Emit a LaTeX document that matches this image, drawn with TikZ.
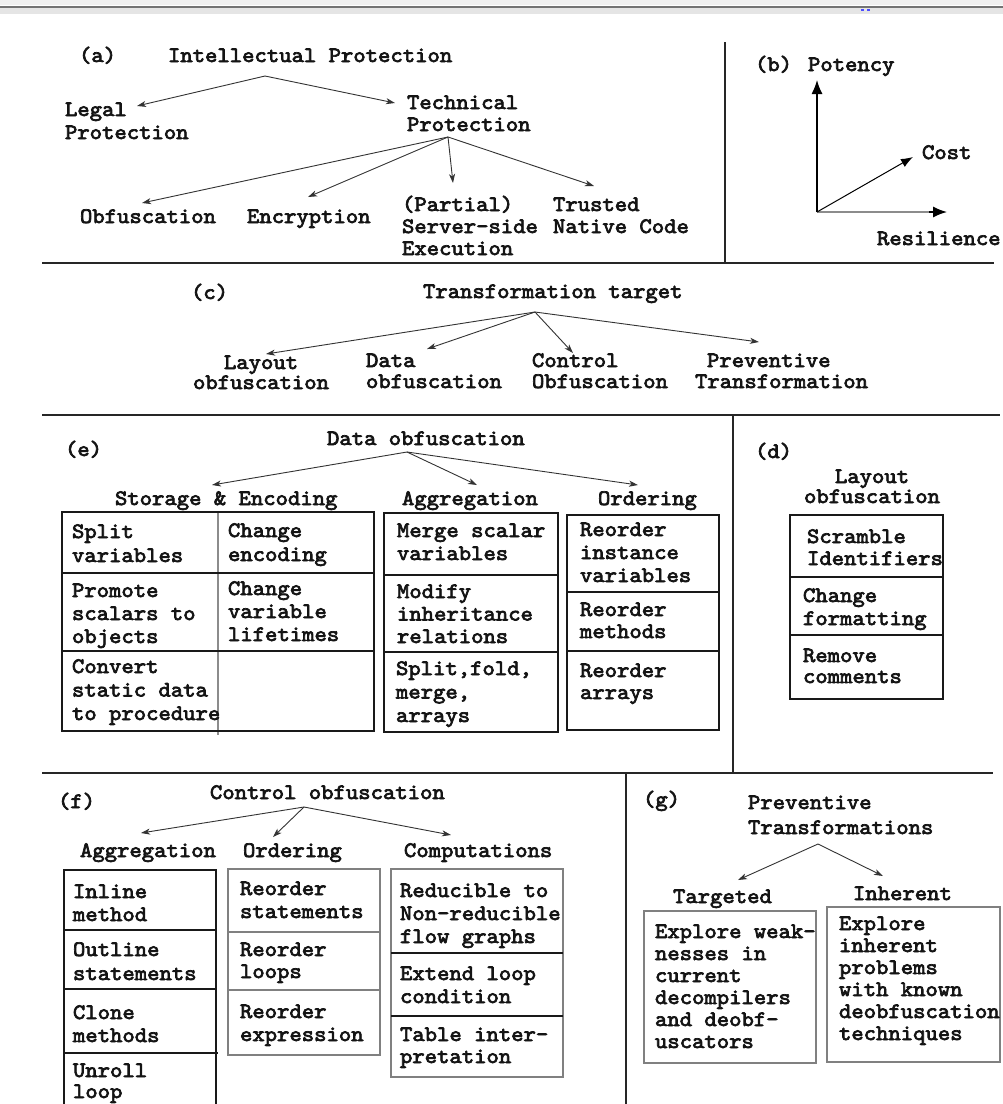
\documentclass[tikz,border=0pt]{standalone}
\usepackage{fontspec}
\usetikzlibrary{arrows.meta}
% typewriter face for every label
\newfontfamily\figtt{lmmono10-regular.otf}[FakeStretch=1.07,FakeBold=3.2]
\newcommand\figfont[1]{\figtt\fontsize{22}{#1}\selectfont}
\newcommand\lns[1]{\begin{tabular}[t]{@{}l@{}}#1\end{tabular}}
\newcommand\clns[1]{\begin{tabular}[t]{@{}c@{}}#1\end{tabular}}
\tikzset{
  lbl/.style={anchor=base west, inner sep=0pt, outer sep=0pt, text=black!92, font=\figfont{#1}},
  lbl/.default=22,
  clbl/.style={anchor=base, inner sep=0pt, outer sep=0pt, text=black!92, font=\figfont{#1}},
  clbl/.default=22,
  branch/.style={draw=black!80, line width=0.9pt, -{Stealth[length=9pt,width=6pt,inset=2.5pt]}},
  axisarrow/.style={draw=black, line width=1.4pt, -{Latex[length=14pt,width=11pt]}},
  divider/.style={draw=black!85, line width=1.4pt},
  cell/.style={draw=black!90, line width=1.3pt},
  softcell/.style={draw=black!50, line width=1.4pt},
}
\begin{document}
\begin{tikzpicture}[x=1pt,y=-1pt]
\useasboundingbox (0,0) rectangle (1003,1104);
\fill[white] (0,0) rectangle (1003,1104);

% window border strip along the top
\fill[black!6] (0,0) rectangle (1003,5);
\draw[black!55, line width=2pt] (0,7) -- (1003,7);
\fill[black!10] (0,8) rectangle (1003,14);
\fill[blue!70] (861,9) rectangle (864,11);
\fill[blue!70] (867,9) rectangle (870,11);

% ---------------- (a) intellectual protection ----------------
\node[lbl] (a-tag) at (79,62) {(a)};
\node[lbl] (ip) at (168,62) {Intellectual Protection};
\node[lbl=23] (legal) at (65,116) {\lns{Legal\\Protection}};
\node[lbl=22] (tech) at (407,109) {\lns{Technical\\Protection}};
\node[lbl] (obf) at (80,223) {Obfuscation};
\node[lbl] (enc) at (247,223) {Encryption};
\node[lbl=22] (sse) at (402,211) {\lns{(Partial)\\Server-side\\Execution}};
\node[lbl=22] (tnc) at (553,211) {\lns{Trusted\\Native Code}};
\coordinate (ip-out) at (265,76);
\coordinate (legal-in) at (137,106);
\coordinate (tech-in) at (395,103);
\coordinate (tech-out) at (448,137);
\coordinate (obf-in) at (142,203);
\coordinate (enc-in) at (308,197);
\coordinate (sse-in) at (453,183);
\coordinate (tnc-in) at (594,186);
\draw[branch] (ip-out) -- (legal-in);
\draw[branch] (ip-out) -- (tech-in);
\draw[branch] (tech-out) -- (obf-in);
\draw[branch] (tech-out) -- (enc-in);
\draw[branch] (tech-out) -- (sse-in);
\draw[branch] (tech-out) -- (tnc-in);

% ---------------- (b) quality axes ----------------
\node[lbl] (b-tag) at (755,71) {(b)};
\node[lbl] (pot) at (808,71) {Potency};
\node[lbl] (cost) at (922,159) {Cost};
\node[lbl] (res) at (877,245) {Resilience};
\coordinate (orig) at (817,212);
\coordinate (pot-in) at (817,80);
\coordinate (res-in) at (947,212);
\coordinate (cost-in) at (913,157);
\draw[axisarrow] (orig) -- (pot-in);
\draw[black!45, line width=2.2pt] (orig) -- (932,212);
\draw[axisarrow, shorten <=112pt] (orig) -- (res-in);
\draw[draw=black, line width=1pt, -{Latex[length=12pt,width=9pt]}] (orig) -- (cost-in);

\draw[divider] (725,42) -- (725,263);
\draw[divider] (42,263) -- (994,263);

% ---------------- (c) transformation target ----------------
\node[lbl] (c-tag) at (191,299) {(c)};
\node[lbl] (tt) at (423,298) {Transformation target};
\node[clbl=20] (lay) at (261,369) {\clns{Layout\\obfuscation}};
\node[lbl=21] (dat) at (366,367) {\lns{Data\\obfuscation}};
\node[lbl=21] (ctl) at (532,367) {\lns{Control\\Obfuscation}};
\node[lbl=21] (prev) at (695,367) {\lns{\hspace*{12pt}Preventive\\Transformation}};
\coordinate (tt-out) at (535,312);
\coordinate (lay-in) at (266,354);
\coordinate (dat-in) at (427,349);
\coordinate (ctl-in) at (573,353);
\coordinate (prev-in) at (759,342);
\draw[branch] (tt-out) -- (lay-in);
\draw[branch] (tt-out) -- (dat-in);
\draw[branch] (tt-out) -- (ctl-in);
\draw[branch] (tt-out) -- (prev-in);

\draw[divider] (42,415) -- (1000,415);

% ---------------- (e) data obfuscation ----------------
\node[lbl] (e-tag) at (65,456) {(e)};
\node[lbl] (dobf) at (327,445) {Data obfuscation};
\node[lbl] (se) at (115,505) {Storage \& Encoding};
\node[lbl] (eagg) at (402,505) {Aggregation};
\node[lbl] (eord) at (598,505) {Ordering};
\coordinate (dobf-out) at (407,452);
\coordinate (se-in) at (212,485);
\coordinate (eagg-in) at (477,485);
\coordinate (eord-in) at (638,485);
\draw[branch] (dobf-out) -- (se-in);
\draw[branch] (dobf-out) -- (eagg-in);
\draw[branch] (dobf-out) -- (eord-in);

% storage & encoding table
\draw[black!45, line width=1.6pt] (218,512) -- (218,735);
\draw[cell] (62,512) rectangle (374,731);
\draw[cell] (62,573) -- (374,573);
\draw[cell] (62,651) -- (374,651);
\node[lbl=24] (se1) at (72,538) {\lns{Split\\variables}};
\node[lbl=24] (se2) at (228,537) {\lns{Change\\encoding}};
\node[lbl=23] (se3) at (72,597) {\lns{Promote\\scalars to\\objects}};
\node[lbl=23] (se4) at (228,595) {\lns{Change\\variable\\lifetimes}};
\node[lbl=23.5] (se5) at (72,673) {\lns{Convert\\static data\\to procedure}};

% aggregation table
\draw[cell] (384,513) rectangle (558,732);
\draw[cell] (384,575) -- (558,575);
\draw[cell] (384,652) -- (558,652);
\node[lbl=23] (ea1) at (397,537) {\lns{Merge scalar\\variables}};
\node[lbl=22.5] (ea2) at (397,598) {\lns{Modify\\inheritance\\relations}};
\node[lbl=23.5] (ea3) at (396,675) {\lns{Split,fold,\\merge,\\arrays}};

% ordering table
\draw[cell] (567,515) rectangle (719,730);
\draw[cell] (567,592) -- (719,592);
\draw[cell] (567,651) -- (719,651);
\node[lbl=23] (eo1) at (580,536) {\lns{Reorder\\instance\\variables}};
\node[lbl=22] (eo2) at (580,616) {\lns{Reorder\\methods}};
\node[lbl=22] (eo3) at (580,677) {\lns{Reorder\\arrays}};

\draw[divider] (733,415) -- (733,773);

% ---------------- (d) layout obfuscation ----------------
\node[lbl] (d-tag) at (755,458) {(d)};
\node[clbl=20] (lobf) at (872,483) {\clns{Layout\\obfuscation}};
\draw[cell] (790,515) rectangle (943,699);
\draw[cell] (790,577) -- (943,577);
\draw[cell] (790,635) -- (943,635);
\node[lbl=22] (lo1) at (807,543) {\lns{Scramble\\Identifiers}};
\node[lbl=23] (lo2) at (803,602) {\lns{Change\\formatting}};
\node[lbl=21] (lo3) at (803,662) {\lns{Remove\\comments}};

\draw[divider] (42,773) -- (993,773);

% ---------------- (f) control obfuscation ----------------
\node[lbl] (f-tag) at (58,808) {(f)};
\node[lbl] (cobf) at (210,799) {Control obfuscation};
\node[lbl] (fagg) at (80,857) {Aggregation};
\node[lbl] (ford) at (243,857) {Ordering};
\node[lbl] (fcomp) at (404,857) {Computations};
\coordinate (cobf-out) at (304,807);
\coordinate (fagg-in) at (141,833);
\coordinate (ford-in) at (273,837);
\coordinate (fcomp-in) at (451,835);
\draw[branch] (cobf-out) -- (fagg-in);
\draw[branch] (cobf-out) -- (ford-in);
\draw[branch] (cobf-out) -- (fcomp-in);

% aggregation column, open at the bottom
\draw[cell] (64,1104) -- (64,870) -- (216,870) -- (216,1104);
\draw[cell] (64,930) -- (216,930);
\draw[cell] (64,989) -- (216,989);
\draw[cell] (64,1053) -- (218,1053);
\node[lbl=23] (fa1) at (73,898) {\lns{Inline\\method}};
\node[lbl=24] (fa2) at (73,956) {\lns{Outline\\statements}};
\node[lbl=23] (fa3) at (73,1019) {\lns{Clone\\methods}};
\node[lbl=21] (fa4) at (73,1077) {\lns{Unroll\\loop}};

% ordering column
\draw[softcell] (228,869) rectangle (380,1055);
\draw[softcell] (228,932) -- (380,932);
\draw[softcell] (228,990) -- (380,990);
\node[lbl=23] (fo1) at (240,895) {\lns{Reorder\\statements}};
\node[lbl=22] (fo2) at (240,956) {\lns{Reorder\\loops}};
\node[lbl=23] (fo3) at (240,1018) {\lns{Reorder\\expression}};

% computations column
\draw[softcell] (391,869) rectangle (563,1077);
\draw[cell] (391,953) -- (563,953);
\draw[cell] (391,1016) -- (563,1016);
\node[lbl=23] (fc1) at (400,897) {\lns{Reducible to\\Non-reducible\\flow graphs}};
\node[lbl=23] (fc2) at (400,980) {\lns{Extend loop\\condition}};
\node[lbl=22] (fc3) at (400,1041) {\lns{Table inter-\\pretation}};

\draw[divider] (626,773) -- (626,1104);

% ---------------- (g) preventive transformations ----------------
\node[lbl] (g-tag) at (643,806) {(g)};
\node[lbl=25] (pt) at (748,809) {\lns{Preventive\\Transformations}};
\node[lbl] (tgt) at (673,903) {Targeted};
\node[lbl] (inh) at (853,900) {Inherent};
\coordinate (pt-out) at (818,844);
\coordinate (tgt-in) at (738,880);
\coordinate (inh-in) at (883,876);
\draw[branch] (pt-out) -- (tgt-in);
\draw[branch] (pt-out) -- (inh-in);
\draw[softcell] (644,911) rectangle (816,1063);
\draw[softcell] (827,907) rectangle (1000,1062);
\node[lbl=22] (tg1) at (655,938) {\lns{Explore weak-\\nesses in\\current\\decompilers\\and deobf-\\uscators}};
\node[lbl=22] (ih1) at (839,930) {\lns{Explore\\inherent\\problems\\with known\\deobfuscation\\techniques}};
\end{tikzpicture}
\end{document}
